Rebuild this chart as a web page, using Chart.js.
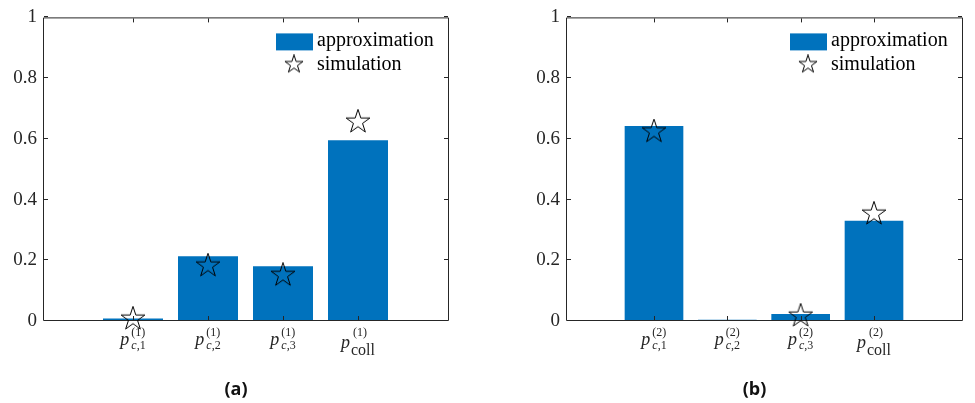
<!DOCTYPE html>
<html>
<head>
<meta charset="utf-8">
<script src="https://cdn.jsdelivr.net/npm/chart.js@4.4.1/dist/chart.umd.min.js"></script>
<style>
  html, body { margin: 0; padding: 0; background: #fff; overflow: hidden; }
  #wrap { position: relative; width: 975px; height: 403px; }
  canvas { position: absolute; top: 0; }
</style>
</head>
<body>
<div id="wrap">
  <canvas id="chartA" width="487" height="403" style="left:0"></canvas>
  <canvas id="chartB" width="488" height="403" style="left:487px"></canvas>
</div>
<script>
// Category positions on the x axis and their subscripts
const categoryPositions = [1, 2, 3, 4];
const subscripts = ['c,1', 'c,2', 'c,3', 'coll'];
const superscriptA = '(1)';
const superscriptB = '(2)';

// Panel (a): user 1
const approxA = [0.008, 0.213, 0.180, 0.595];
const simA    = [0.007, 0.182, 0.151, 0.656];

// Panel (b): user 2
const approxB = [0.642, 0.004, 0.023, 0.330];
const simB    = [0.624, null, 0.017, 0.353];

const yTicks = [0, 0.2, 0.4, 0.6, 0.8, 1];
const seriesNames = ['approximation', 'simulation'];
const panelTags = ['(a)', '(b)'];

const BLUE = '#0072BD';
const AXIS = '#262626';
const SERIF = '"Liberation Serif"';

// Outlined five-pointed star used as the marker
function makeStar(size, R) {
  const c = document.createElement('canvas');
  c.width = size; c.height = size;
  const g = c.getContext('2d');
  const cx = size / 2, cy = size / 2, r = R * 0.382;
  g.beginPath();
  for (let i = 0; i < 10; i++) {
    const rad = i % 2 === 0 ? R : r;
    const ang = -Math.PI / 2 + i * Math.PI / 5;
    const px = cx + rad * Math.cos(ang), py = cy + rad * Math.sin(ang);
    if (i === 0) g.moveTo(px, py); else g.lineTo(px, py);
  }
  g.closePath();
  g.lineWidth = 1;
  g.strokeStyle = '#000';
  g.lineJoin = 'miter';
  g.stroke();
  return c;
}
const starMarker = makeStar(26, 12.5);
const legendStar = makeStar(20, 9.5);

// Box around the plot with inward ticks on all four sides
function drawFrame(chart) {
  const { ctx, chartArea: a, scales: { x, y } } = chart;
  ctx.save();
  ctx.strokeStyle = AXIS;
  ctx.lineWidth = 1;
  ctx.beginPath();
  ctx.rect(a.left + 0.5, a.top + 0.5, a.right - a.left, a.bottom - a.top - 1);
  const tl = 4;
  yTicks.forEach(v => {
    const py = Math.round(y.getPixelForValue(v)) - 0.5;
    ctx.moveTo(a.left + 1, py); ctx.lineTo(a.left + 1 + tl, py);
    ctx.moveTo(a.right, py); ctx.lineTo(a.right - tl, py);
  });
  categoryPositions.forEach(c => {
    const px = Math.round(x.getPixelForValue(c)) + 0.5;
    ctx.moveTo(px, a.bottom - 1); ctx.lineTo(px, a.bottom - 1 - tl);
    ctx.moveTo(px, a.top + 1); ctx.lineTo(px, a.top + 1 + tl);
  });
  ctx.stroke();
  ctx.restore();
}

// x tick label of the form p with a superscript and a subscript
function drawCategoryLabel(ctx, cx, bottom, sup, sub) {
  const pFont = 'italic 18px ' + SERIF;
  const smallFont = '12px ' + SERIF;
  const smallItalic = 'italic 12px ' + SERIF;
  const collFont = '16px ' + SERIF;
  const isColl = sub === 'coll';
  ctx.font = pFont;
  const pw = ctx.measureText('p').width;
  ctx.font = smallFont;
  const supW = ctx.measureText(sup).width;
  let subW, parts = null;
  if (isColl) {
    ctx.font = collFont; subW = ctx.measureText(sub).width;
  } else {
    const i = sub.indexOf(',');
    parts = [sub.slice(0, i), sub.slice(i)];
    ctx.font = smallItalic; const w1 = ctx.measureText(parts[0]).width;
    ctx.font = smallFont; const w2 = ctx.measureText(parts[1]).width;
    subW = w1 + w2;
    parts.push(w1);
  }
  const gap = isColl ? 1 : 2;
  const total = pw + gap + Math.max(supW + (isColl ? 2 : 0), subW);
  const x0 = cx - total / 2;
  ctx.fillStyle = AXIS;
  ctx.textAlign = 'left';
  ctx.textBaseline = 'alphabetic';
  ctx.font = pFont;
  ctx.fillText('p', x0, bottom + (isColl ? 26.5 : 24));
  const xs = x0 + pw + gap;
  ctx.font = smallFont;
  ctx.fillText(sup, xs + (isColl ? 2 : 0), bottom + 14.5);
  if (isColl) {
    ctx.font = collFont;
    ctx.fillText(sub, xs, bottom + 34);
  } else {
    ctx.font = smallItalic;
    ctx.fillText(parts[0], xs, bottom + 27.5);
    ctx.font = smallFont;
    ctx.fillText(parts[1], xs + parts[2], bottom + 27.5);
  }
}

const panelPlugin = {
  id: 'panel',
  beforeDatasetDraw(chart, args) {
    if (args.index === 1) drawFrame(chart);
  },
  afterDraw(chart, args, opts) {
    const { ctx, chartArea: a, scales: { x } } = chart;
    ctx.save();
    // x tick labels
    categoryPositions.forEach((c, i) => {
      drawCategoryLabel(ctx, x.getPixelForValue(c), a.bottom, opts.sup, subscripts[i]);
    });
    // legend
    const r = a.right, t = a.top;
    ctx.fillStyle = BLUE;
    ctx.fillRect(r - 172, t + 16, 37, 17);
    ctx.drawImage(legendStar, r - 164, t + 37);
    ctx.fillStyle = '#000';
    ctx.font = '20px ' + SERIF;
    ctx.textAlign = 'left';
    ctx.textBaseline = 'alphabetic';
    ctx.fillText(chart.data.datasets[0].label, r - 131, t + 28.5);
    ctx.fillText(chart.data.datasets[1].label, r - 131, t + 52.5);
    // panel tag
    ctx.fillStyle = '#111';
    ctx.font = 'bold 18px "Open Sans"';
    ctx.textAlign = 'center';
    ctx.fillText(opts.tag, (a.left + a.right) / 2 - 9.5, 395);
    ctx.restore();
  }
};

function buildChart(id, approx, sim, sup, tag, axisWidth, padRight) {
  const toPoints = vals => vals.map((v, i) => ({ x: categoryPositions[i], y: v }));
  return new Chart(document.getElementById(id), {
    type: 'bar',
    data: {
      datasets: [
        {
          label: seriesNames[0],
          data: toPoints(approx),
          backgroundColor: BLUE,
          borderWidth: 0,
          barPercentage: 0.8,
          categoryPercentage: 1.0,
          order: 2
        },
        {
          type: 'line',
          label: seriesNames[1],
          data: toPoints(sim),
          showLine: false,
          pointStyle: starMarker,
          pointRadius: 12,
          clip: false,
          order: 1
        }
      ]
    },
    options: {
      responsive: false,
      devicePixelRatio: 1,
      animation: false,
      events: [],
      layout: { padding: { top: 15, right: padRight, bottom: 82, left: 0 } },
      plugins: {
        legend: { display: false },
        tooltip: { enabled: false },
        panel: { sup: sup, tag: tag }
      },
      scales: {
        x: {
          type: 'linear',
          min: -0.2,
          max: 5.2,
          offset: false,
          display: false,
          grid: { offset: false }
        },
        y: {
          min: 0,
          max: 1,
          afterFit: s => { s.width = axisWidth; },
          afterBuildTicks: s => { s.ticks = yTicks.map(v => ({ value: v })); },
          grid: { display: false, drawTicks: false },
          border: { display: false },
          ticks: {
            padding: 6,
            color: AXIS,
            font: { family: SERIF, size: 19 },
            callback: v => String(v)
          }
        }
      }
    },
    plugins: [panelPlugin]
  });
}

buildChart('chartA', approxA, simA, superscriptA, panelTags[0], 43, 39);
buildChart('chartB', approxB, simB, superscriptB, panelTags[1], 79, 4);
</script>
</body>
</html>
